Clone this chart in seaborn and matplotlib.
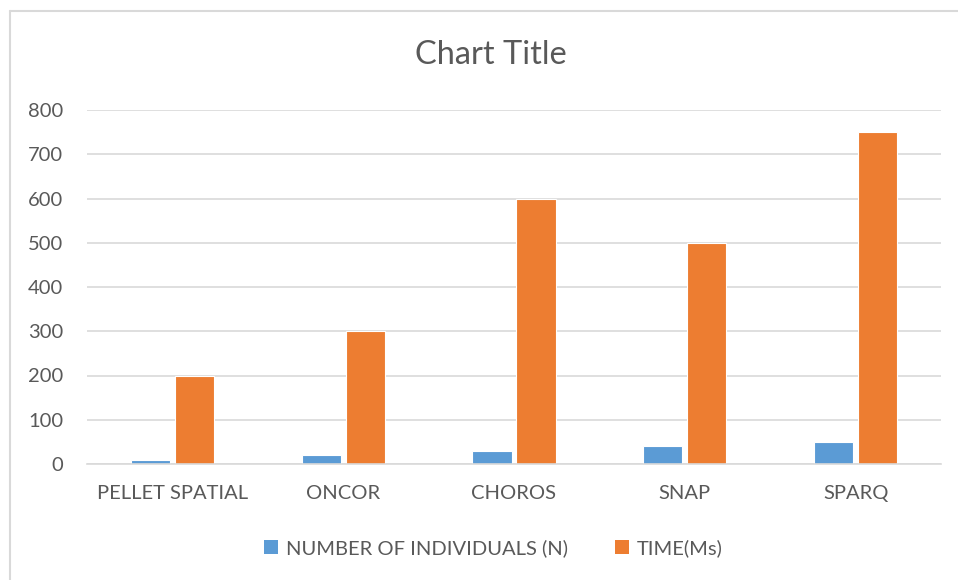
import matplotlib
matplotlib.use("Agg")
import matplotlib.pyplot as plt
import seaborn as sns
import pandas as pd
from matplotlib.patches import Patch
from matplotlib.lines import Line2D

categories = ["PELLET SPATIAL", "ONCOR", "CHOROS", "SNAP", "SPARQ"]
series_names = ["NUMBER OF INDIVIDUALS (N)", "TIME(Ms)"]
individuals = [10, 20, 30, 40, 50]
time_ms = [200, 300, 600, 500, 750]
y_ticks = [0, 100, 200, 300, 400, 500, 600, 700, 800]

colors = ["#5B9BD5", "#ED7D31"]
text_color = "#595959"
grid_color = "#D9D9D9"

df = pd.DataFrame({
    "category": categories * 2,
    "series": [series_names[0]] * len(categories) + [series_names[1]] * len(categories),
    "value": individuals + time_ms,
})

sns.set_theme(style="white")
plt.rcParams["font.family"] = ["Lato", "DejaVu Sans"]

fig = plt.figure(figsize=(9.58, 5.8), dpi=100)
ax = fig.add_axes([87 / 958, 1 - 464 / 580, (941 - 87) / 958, (464 - 110) / 580])

sns.barplot(data=df, x="category", y="value", hue="series", order=categories,
            hue_order=series_names, palette=colors, saturation=1,
            width=0.515, gap=0.11, edgecolor="white", linewidth=0.8,
            ax=ax, legend=False)

ax.set_ylim(0, 800)
ax.set_yticks(y_ticks)
ax.set_xlim(-0.5, len(categories) - 0.5)
ax.set_xlabel("")
ax.set_ylabel("")
ax.yaxis.grid(True, color=grid_color, linewidth=1.2)
ax.xaxis.grid(False)
ax.set_axisbelow(True)
for s in ["top", "right", "left"]:
    ax.spines[s].set_visible(False)
ax.spines["bottom"].set_color(grid_color)
ax.spines["bottom"].set_linewidth(1.2)
ax.tick_params(axis="y", length=0, pad=17, labelsize=14.5, labelcolor=text_color)
ax.tick_params(axis="x", length=0, pad=15, labelsize=14.5, labelcolor=text_color)

fig.text(0.512, 1 - 55 / 580, "Chart Title", ha="center", va="center",
         fontsize=23.5, color=text_color)

handles = [Patch(facecolor=c, edgecolor="none") for c in colors]
fig.legend(handles, series_names, loc="center", bbox_to_anchor=(0.515, 1 - 548 / 580),
           ncol=2, frameon=False, fontsize=14.5, labelcolor=text_color,
           handlelength=0.7, handleheight=0.7, handletextpad=0.4, columnspacing=2.3)

# chart border (left and top visible)
fig.add_artist(Line2D([10 / 958, 10 / 958], [0, 1 - 11 / 580], transform=fig.transFigure,
                      color=grid_color, linewidth=1.5))
fig.add_artist(Line2D([10 / 958, 1], [1 - 11 / 580, 1 - 11 / 580], transform=fig.transFigure,
                      color=grid_color, linewidth=1.5))

fig.savefig("out.png", dpi=100, facecolor="white")
